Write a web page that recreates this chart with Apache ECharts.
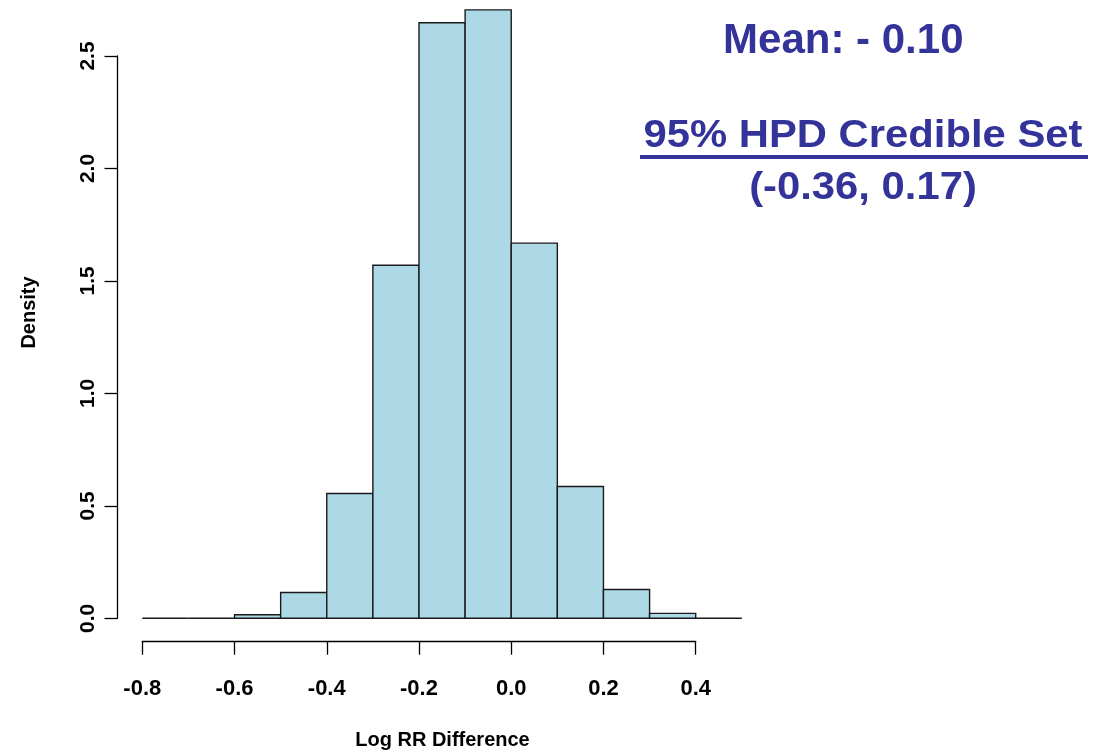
<!DOCTYPE html>
<html>
<head>
<meta charset="utf-8">
<script src="https://cdn.jsdelivr.net/npm/echarts@6/dist/echarts.min.js"></script>
<style>
html,body{margin:0;padding:0;background:#fff;}
#chart{width:1103px;height:754px;}
</style>
</head>
<body>
<div id="chart"></div>
<script>
// Histogram bin edges (Log RR Difference)
const binEdges = [-0.8, -0.7, -0.6, -0.5, -0.4, -0.3, -0.2, -0.1, 0.0, 0.1, 0.2, 0.3, 0.4, 0.5];
// Density per bin
const density = [0, 0, 0.016, 0.115, 0.555, 1.570, 2.648, 2.705, 1.668, 0.586, 0.128, 0.022, 0];
// Tick labels
const xTickValues = [-0.8, -0.6, -0.4, -0.2, 0.0, 0.2, 0.4];
const xTickLabels = ['-0.8', '-0.6', '-0.4', '-0.2', '0.0', '0.2', '0.4'];
const yTickValues = [0, 0.5, 1.0, 1.5, 2.0, 2.5];
const yTickLabels = ['0.0', '0.5', '1.0', '1.5', '2.0', '2.5'];
// Annotation texts
const meanText = 'Mean: - 0.10';
const hpdTitle = '95% HPD Credible Set';
const hpdRange = '(-0.36, 0.17)';
const xTitle = 'Log RR Difference';
const yTitle = 'Density';

const FONT = "'Liberation Sans', Arial, Helvetica, sans-serif";
const ANN = '#333399';

const bins = density.map((d, i) => [binEdges[i], binEdges[i + 1], d]);

function labelFor(values, labels) {
  return function (v) {
    for (let i = 0; i < values.length; i++) {
      if (Math.abs(values[i] - v) < 1e-6) return labels[i];
    }
    return '';
  };
}

const chart = echarts.init(document.getElementById('chart'), null, {renderer: 'canvas'});
chart.setOption({
  animation: false,
  backgroundColor: '#ffffff',
  grid: {left: 142.3, right: 407.3, top: 56, bottom: 135.7, containLabel: false},
  xAxis: {
    type: 'value', min: -0.8, max: 0.4, interval: 0.2,
    offset: 23.4,
    splitLine: {show: false},
    axisLine: {show: true, onZero: false, lineStyle: {color: '#000', width: 1.3}},
    axisTick: {show: true, length: 13, lineStyle: {color: '#000', width: 1.3}},
    axisLabel: {
      margin: 36, color: '#000', fontFamily: FONT, fontWeight: 'bold', fontSize: 22,
      formatter: labelFor(xTickValues, xTickLabels)
    }
  },
  yAxis: {
    type: 'value', min: 0, max: 2.5, interval: 0.5,
    offset: 24.8,
    splitLine: {show: false},
    axisLine: {show: true, onZero: false, lineStyle: {color: '#000', width: 1.3}},
    axisTick: {show: true, length: 13, lineStyle: {color: '#000', width: 1.3}},
    axisLabel: {
      margin: 19, rotate: 90, color: '#000', fontFamily: FONT, fontWeight: 'bold', fontSize: 21,
      formatter: labelFor(yTickValues, yTickLabels)
    }
  },
  series: [{
    type: 'custom',
    clip: false,
    data: bins,
    encode: {x: [0, 1], y: 2},
    renderItem: function (params, api) {
      const x0 = api.value(0), x1 = api.value(1), d = api.value(2);
      const pTop = api.coord([x0, d]);
      const pBot = api.coord([x1, 0]);
      return {
        type: 'rect',
        shape: {x: pTop[0], y: pTop[1], width: pBot[0] - pTop[0], height: pBot[1] - pTop[1]},
        style: {fill: '#ADD8E6', stroke: '#1a1a1a', lineWidth: 1.4}
      };
    }
  }],
  graphic: [
    {type: 'text', x: 442.5, y: 740, style: {text: xTitle, fill: '#000', font: 'bold 20px ' + FONT, textAlign: 'center', textVerticalAlign: 'middle'}},
    {type: 'text', x: 29, y: 312.5, rotation: Math.PI / 2, style: {text: yTitle, fill: '#000', font: 'bold 20px ' + FONT, textAlign: 'center', textVerticalAlign: 'middle'}},
    {type: 'text', x: 843.3, y: 41, style: {text: meanText, fill: ANN, font: 'bold 42px ' + FONT, textAlign: 'center', textVerticalAlign: 'middle'}},
    {type: 'text', x: 863, y: 137, scaleX: 1.1, style: {text: hpdTitle, fill: ANN, font: 'bold 38px ' + FONT, textAlign: 'center', textVerticalAlign: 'middle'}},
    {type: 'rect', shape: {x: 640, y: 155, width: 448, height: 4}, style: {fill: ANN}},
    {type: 'text', x: 863, y: 189, scaleX: 1.1, style: {text: hpdRange, fill: ANN, font: 'bold 38px ' + FONT, textAlign: 'center', textVerticalAlign: 'middle'}}
  ]
});
</script>
</body>
</html>
